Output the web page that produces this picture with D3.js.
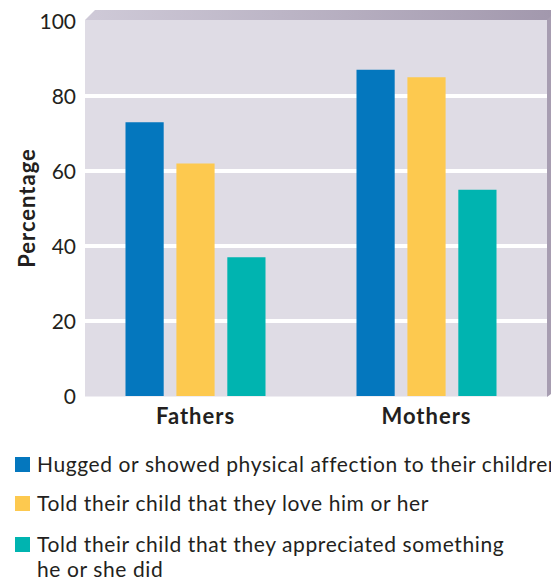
<!DOCTYPE html>
<html>
<head>
<meta charset="utf-8">
<script src="https://cdn.jsdelivr.net/npm/d3@7"></script>
<style>
  body { margin: 0; background: #fff; }
  text { font-family: Lato, "Open Sans", sans-serif; fill: #231f20; }
</style>
</head>
<body>
<div id="chart-area"></div>
<script>
const W = 551, H = 582
const PLOT = { LEFT: 85, RIGHT: 547, TOP: 20, BOTTOM: 396 }

// data
const groups = ["Fathers", "Mothers"]
const series = [
  "Hugged or showed physical affection to their children",
  "Told their child that they love him or her",
  "Told their child that they appreciated something he or she did"
]
const legendLines = [
  ["Hugged or showed physical affection to their children"],
  ["Told their child that they love him or her"],
  ["Told their child that they appreciated something", "he or she did"]
]
const fathers = [73, 62, 37]
const mothers = [87, 85, 55]
const yTicks = [0, 20, 40, 60, 80, 100]
const colors = ["#0477be", "#fdc94f", "#00b4b0"]

const data = groups.map((g, i) => ({
  group: g,
  values: (i === 0 ? fathers : mothers).map((v, j) => ({ key: series[j], value: v }))
}))

const svg = d3.select("#chart-area").append("svg")
  .attr("width", W)
  .attr("height", H)

const y = d3.scaleLinear().domain([0, 100]).range([PLOT.BOTTOM, 21])
const x0 = d3.scaleBand().domain(groups).range([80, 542])
const x1 = d3.scaleBand().domain(series).range([-70, 70]).paddingInner(0.25)
const cScale = d3.scaleOrdinal().domain(series).range(colors)

// 3d-ish frame
const defs = svg.append("defs")
const grad = defs.append("linearGradient").attr("id", "topGrad")
grad.append("stop").attr("offset", "0%").attr("stop-color", "#cfcad8")
grad.append("stop").attr("offset", "100%").attr("stop-color", "#a298ad")

svg.append("path")
  .attr("d", `M${PLOT.LEFT},${PLOT.TOP} L${PLOT.LEFT + 10},${PLOT.TOP - 10} L${W},${PLOT.TOP - 10} L${W},${PLOT.TOP} Z`)
  .attr("fill", "url(#topGrad)")
svg.append("path")
  .attr("d", `M${PLOT.RIGHT},${PLOT.TOP} L${W},${PLOT.TOP - 4} L${W},${PLOT.BOTTOM - 2} L${PLOT.RIGHT},${PLOT.BOTTOM + 1} Z`)
  .attr("fill", "#a79db1")
svg.append("rect")
  .attr("x", PLOT.LEFT).attr("y", PLOT.TOP)
  .attr("width", PLOT.RIGHT - PLOT.LEFT)
  .attr("height", PLOT.BOTTOM - PLOT.TOP + 0.5)
  .attr("fill", "#dfdce5")

// gridlines
svg.selectAll(".grid")
  .data(yTicks.filter(t => t > 0 && t < 100))
  .join("line")
  .attr("x1", PLOT.LEFT).attr("x2", PLOT.RIGHT)
  .attr("y1", d => y(d)).attr("y2", d => y(d))
  .attr("stroke", "#fff")
  .attr("stroke-width", 4)

// y axis
const yAxis = svg.append("g")
  .attr("transform", `translate(${PLOT.LEFT - 9},0)`)
  .call(d3.axisLeft(y).tickValues(yTicks).tickSize(0).tickPadding(0))
yAxis.select(".domain").remove()
yAxis.selectAll("text")
  .style("font-family", "Lato, sans-serif")
  .style("font-size", "21px")
  .attr("fill", "#231f20")
  .attr("dy", "0.35em")

svg.append("text")
  .attr("transform", `translate(35,208) rotate(-90)`)
  .attr("text-anchor", "middle")
  .style("font-size", "22px")
  .style("font-weight", "bold")
  .style("letter-spacing", "1px")
  .text("Percentage")

// bars
const g = svg.selectAll(".group")
  .data(data)
  .join("g")
  .attr("transform", d => `translate(${x0(d.group) + x0.bandwidth() / 2},0)`)

g.selectAll("rect")
  .data(d => d.values)
  .join("rect")
  .attr("x", d => x1(d.key))
  .attr("y", d => y(d.value))
  .attr("width", x1.bandwidth())
  .attr("height", d => y(0) - y(d.value))
  .attr("fill", d => cScale(d.key))

// x axis labels
const xAxis = svg.append("g")
  .attr("transform", `translate(0,${PLOT.BOTTOM + 28})`)
  .call(d3.axisBottom(x0).tickSize(0).tickPadding(0))
xAxis.select(".domain").remove()
xAxis.selectAll("text")
  .style("font-family", "Lato, sans-serif")
  .style("font-size", "22px")
  .style("font-weight", "bold")
  .style("letter-spacing", "1px")
  .attr("fill", "#231f20")
  .attr("dy", "0")

// legend
const legendY = [457, 496, 537]
const legend = svg.selectAll(".legend")
  .data(series)
  .join("g")
  .attr("transform", (d, i) => `translate(15,${legendY[i]})`)

legend.append("rect")
  .attr("width", 15).attr("height", 15)
  .attr("fill", d => cScale(d))

legend.append("text")
  .style("font-size", "21px")
  .style("letter-spacing", "0.6px")
  .selectAll("tspan")
  .data((d, i) => legendLines[i])
  .join("tspan")
  .attr("x", 22)
  .attr("y", (d, i) => 15 + i * 25)
  .text(d => d)
</script>
</body>
</html>
